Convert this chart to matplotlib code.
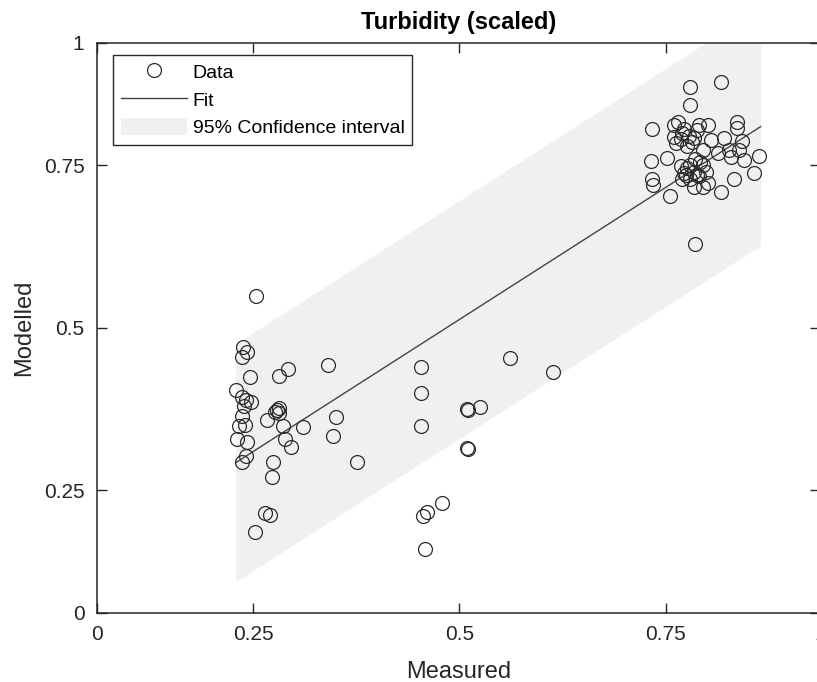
import numpy as np
import matplotlib
matplotlib.use("Agg")
import matplotlib.pyplot as plt

plt.rcParams["font.family"] = ["Liberation Sans", "DejaVu Sans"]

# ── Daten ──────────────────────────────────────────────────────────────────────
measured = [
    # linker Cluster
    0.254, 0.238, 0.243, 0.237, 0.246, 0.230, 0.237, 0.242, 0.248, 0.239,
    0.237, 0.233, 0.240, 0.231, 0.243, 0.242, 0.237, 0.281, 0.293, 0.341,
    0.281, 0.277, 0.282, 0.279, 0.267, 0.286, 0.311, 0.350, 0.347, 0.289,
    0.296, 0.274, 0.273, 0.265, 0.271, 0.252, 0.376,
    # Mitte
    0.454, 0.454, 0.454, 0.509, 0.510, 0.525, 0.509, 0.510, 0.561, 0.614,
    0.479, 0.461, 0.456, 0.459,
    # rechter Cluster
    0.817, 0.780, 0.780, 0.734, 0.765, 0.801, 0.837, 0.837, 0.821, 0.843,
    0.772, 0.788, 0.760, 0.784, 0.805, 0.762, 0.776, 0.795, 0.813, 0.827,
    0.839, 0.829, 0.845, 0.863, 0.752, 0.732, 0.768, 0.780, 0.795, 0.772,
    0.784, 0.799, 0.770, 0.780, 0.790, 0.784, 0.795, 0.801, 0.833, 0.857,
    0.734, 0.735, 0.817, 0.755, 0.786, 0.760, 0.770, 0.778, 0.790, 0.768,
    0.782, 0.776, 0.788, 0.792, 0.785, 0.775,
]
modelled = [
    0.549, 0.471, 0.462, 0.455, 0.424, 0.404, 0.393, 0.388, 0.385, 0.379,
    0.364, 0.348, 0.351, 0.329, 0.324, 0.302, 0.293, 0.425, 0.436, 0.443,
    0.376, 0.370, 0.369, 0.373, 0.358, 0.348, 0.347, 0.363, 0.333, 0.329,
    0.317, 0.294, 0.270, 0.215, 0.212, 0.185, 0.294,
    0.440, 0.400, 0.348, 0.375, 0.374, 0.378, 0.315, 0.314, 0.453, 0.432,
    0.231, 0.217, 0.211, 0.160,
    0.878, 0.871, 0.843, 0.805, 0.817, 0.812, 0.817, 0.807, 0.792, 0.787,
    0.806, 0.804, 0.794, 0.792, 0.789, 0.784, 0.779, 0.774, 0.769, 0.774,
    0.774, 0.763, 0.758, 0.764, 0.761, 0.756, 0.748, 0.751, 0.751, 0.738,
    0.740, 0.740, 0.728, 0.728, 0.733, 0.717, 0.717, 0.723, 0.728, 0.738,
    0.728, 0.720, 0.708, 0.703, 0.629, 0.812, 0.800, 0.795, 0.812, 0.790,
    0.786, 0.745, 0.735, 0.755, 0.760, 0.735,
]

fit_slope     = 0.813
fit_intercept = 0.106
fit_range     = [0.229, 0.865]
ci_halfwidth  = 0.183

x_lim = [0.061, 0.937]
y_lim = [0.061, 0.938]
tick_vals_x = [x_lim[0], 0.25, 0.5, 0.75, x_lim[1]]
tick_vals_y = [y_lim[0], 0.25, 0.5, 0.75, y_lim[1]]
tick_labels = ["0", "0.25", "0.5", "0.75", "1"]

# ── Plot ───────────────────────────────────────────────────────────────────────
AX_COL = "#262626"

fig = plt.figure(figsize=(8.17, 6.82), dpi=100)
ax = fig.add_axes([97 / 817, 69 / 682, 723 / 817, 570 / 682])

xf = np.array(fit_range)
yf = fit_slope * xf + fit_intercept
ax.fill_between(xf, yf - ci_halfwidth, yf + ci_halfwidth, color="#f0f0f0",
                linewidth=0, label="95% Confidence interval", zorder=1)
ax.plot(xf, yf, color="#444444", linewidth=1.0, label="Fit", zorder=2)
ax.plot(measured, modelled, "o", markersize=10, markerfacecolor="none",
        markeredgecolor="#2b2b2b", markeredgewidth=0.9, label="Data", zorder=3)

ax.set_xlim(x_lim)
ax.set_ylim(y_lim)
ax.set_xticks(tick_vals_x)
ax.set_xticklabels(tick_labels)
ax.set_yticks(tick_vals_y)
ax.set_yticklabels(tick_labels)
ax.tick_params(direction="in", length=7, width=1, top=True, right=True,
               labelsize=15, colors=AX_COL, pad=9)
for sp in ax.spines.values():
    sp.set_color(AX_COL)
    sp.set_linewidth(1.1)

ax.set_xlabel("Measured", fontsize=17, color=AX_COL, labelpad=12)
ax.set_ylabel("Modelled", fontsize=17, color=AX_COL, labelpad=6)
ax.set_title("Turbidity (scaled)", fontsize=17, fontweight="bold", pad=10)

handles, labels = ax.get_legend_handles_labels()
order = [2, 1, 0]
leg = ax.legend([handles[i] for i in order], [labels[i] for i in order],
                loc="upper left", bbox_to_anchor=(0.022, 0.979), borderaxespad=0,
                fontsize=14, frameon=True, fancybox=False, framealpha=1,
                edgecolor=AX_COL, numpoints=1, handlelength=3.4,
                handleheight=1.0, handletextpad=0.3, labelspacing=0.42,
                borderpad=0.4)
leg.get_frame().set_linewidth(1.0)

fig.savefig("out.png", dpi=100)
